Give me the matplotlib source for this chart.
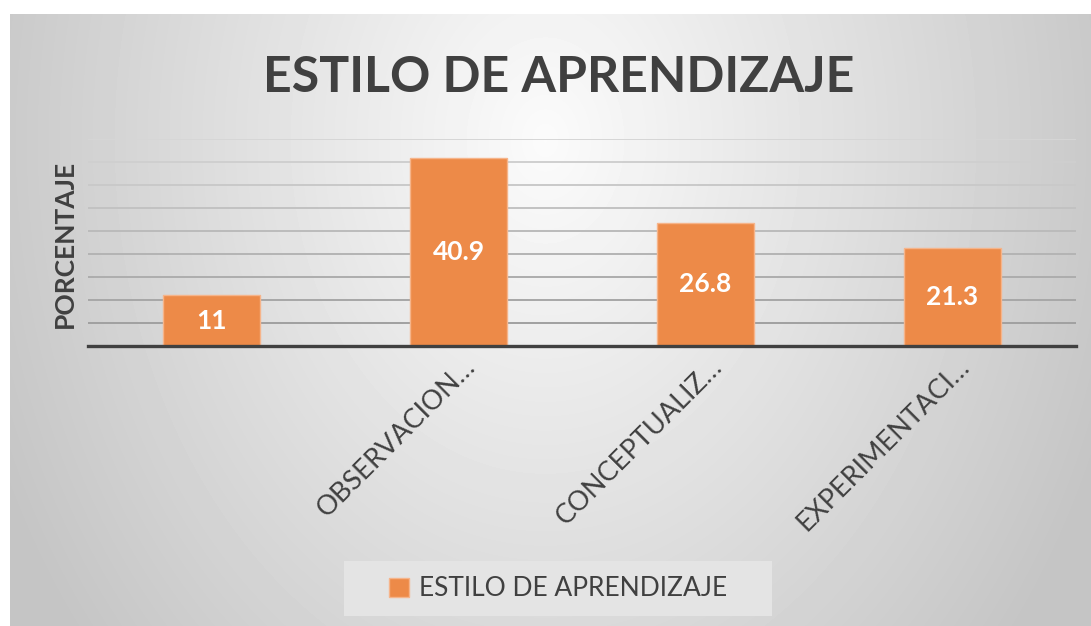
import numpy as np
import matplotlib
matplotlib.use("Agg")
import matplotlib.pyplot as plt
from matplotlib import font_manager
from matplotlib.patches import Rectangle
from matplotlib.transforms import offset_copy

# data
categories = ["", "OBSERVACION…", "CONCEPTUALIZ…", "EXPERIMENTACI…"]
values = [11, 40.9, 26.8, 21.3]
value_labels = ["11", "40.9", "26.8", "21.3"]
series_name = "ESTILO DE APRENDIZAJE"
title = "ESTILO DE APRENDIZAJE"
y_label = "PORCENTAJE"
y_ticks = [0, 5, 10, 15, 20, 25, 30, 35, 40, 45]

available = {f.name for f in font_manager.fontManager.ttflist}
base_font = "Lato" if "Lato" in available else "DejaVu Sans"
plt.rcParams["font.family"] = [base_font, "DejaVu Sans"]

W, H = 1091, 626
fig = plt.figure(figsize=(W / 100, H / 100), dpi=100)
fig.patch.set_facecolor("white")

# radial gray background of the chart area
x0, top_px = 10, 14
bg = fig.add_axes([x0 / W, 0, 1 - x0 / W, 1 - top_px / H], zorder=-10)
yy, xx = np.mgrid[top_px:H, x0:W]
d = np.sqrt(((xx - 545) / 535.0) ** 2 + ((yy - 140) / 700.0) ** 2)
shade = np.clip(0.985 - 0.19 * d, 0.77, 1.0)
bg.imshow(shade, cmap="gray", vmin=0, vmax=1, aspect="auto", interpolation="bilinear")
bg.axis("off")

ax = fig.add_axes([88 / W, 1 - 346 / H, (1076 - 88) / W, (346 - 139) / H])
ax.set_facecolor("none")

x = np.arange(len(categories))
bars = ax.bar(x, values, width=0.395, color="#ED8A48", edgecolor="#F6B48A",
              linewidth=1.0, zorder=3, label=series_name)

ax.set_xlim(-0.5, len(categories) - 0.5)
ax.set_ylim(0, 45)
ax.set_yticks(y_ticks)
ax.set_yticklabels([])
ax.tick_params(axis="both", length=0)
ax.set_xticks([])
ax.grid(axis="y", linewidth=1.4, zorder=0)
for i, gl in enumerate(ax.get_ygridlines()):
    t = i / (len(y_ticks) - 1)
    g = 0.60 + 0.24 * t
    gl.set_color((g, g, g))
for s in ["left", "right", "top"]:
    ax.spines[s].set_visible(False)
ax.spines["bottom"].set_color("#404040")
ax.spines["bottom"].set_linewidth(2.4)
ax.spines["bottom"].set_zorder(4)

# value labels in the middle of each bar
for xi, v, lab in zip(x, values, value_labels):
    ax.text(xi, v / 2, lab, ha="center", va="center", color="white",
            fontsize=19, fontweight="bold", zorder=5)

# rotated category labels
trans = offset_copy(ax.get_xaxis_transform(), fig=fig, x=4, y=-8, units="dots")
for xi, lab in zip(x, categories):
    ax.text(xi, 0, lab, transform=trans, rotation=45, rotation_mode="anchor",
            ha="right", va="top", fontsize=19.5, color="#404040")

fig.text(559 / W, 1 - 92 / H, title, ha="center", va="baseline",
         fontsize=36, fontweight="bold", color="#404040")
fig.text(65 / W, 1 - 244 / H, y_label, ha="center", va="center", rotation=90,
         fontsize=19, fontweight="bold", color="#404040")

# legend box
fig.patches.append(Rectangle((344 / W, 1 - 616 / H), (772 - 344) / W, 55 / H,
                             transform=fig.transFigure, facecolor="#e4e4e4",
                             edgecolor="none", zorder=-5))
leg = fig.legend(handles=[bars], labels=[series_name], loc="center",
                 bbox_to_anchor=(558 / W, 1 - 589 / H), frameon=False,
                 fontsize=19, handlelength=0.75, handleheight=0.75,
                 handletextpad=0.4, borderpad=0.2, borderaxespad=0)
for txt in leg.get_texts():
    txt.set_color("#404040")

fig.savefig("out.png", dpi=100)
